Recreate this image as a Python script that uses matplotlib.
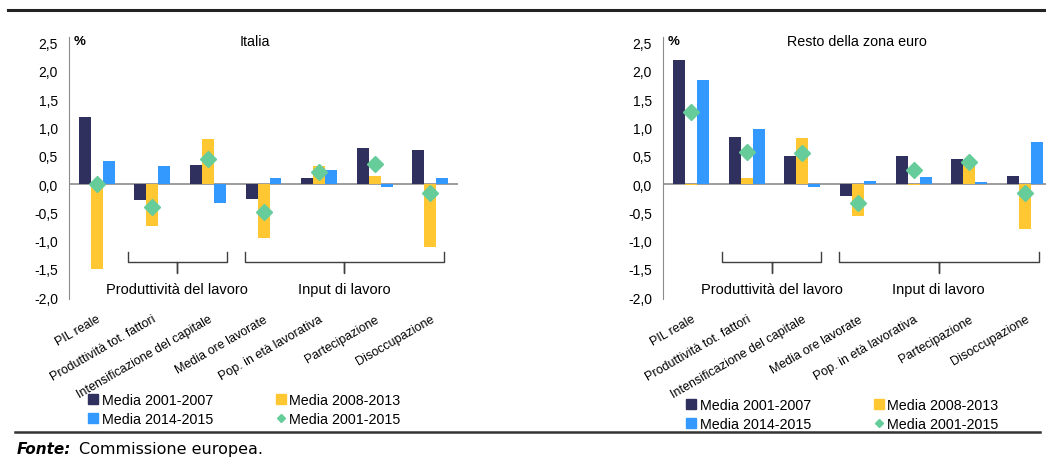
import matplotlib
matplotlib.use('Agg')
import matplotlib.pyplot as plt
from matplotlib.patches import Patch
from matplotlib.lines import Line2D

plt.rcParams['font.family'] = ['Liberation Sans', 'DejaVu Sans']

categories = ['PIL reale', 'Produttività tot. fattori', 'Intensificazione del capitale',
              'Media ore lavorate', 'Pop. in età lavorativa', 'Partecipazione', 'Disoccupazione']
series_names = ['Media 2001-2007', 'Media 2008-2013', 'Media 2014-2015', 'Media 2001-2015']
yticks = [2.5, 2.0, 1.5, 1.0, 0.5, 0.0, -0.5, -1.0, -1.5, -2.0]
group_labels = ['Produttività del lavoro', 'Input di lavoro']

# Italia
ita_0107 = [1.18, -0.28, 0.34, -0.26, 0.11, 0.63, 0.60]
ita_0813 = [-1.50, -0.74, 0.79, -0.95, 0.31, 0.14, -1.12]
ita_1415 = [0.41, 0.31, -0.34, 0.10, 0.24, -0.05, 0.11]
ita_0115 = [0.00, -0.40, 0.44, -0.50, 0.21, 0.35, -0.16]

# Resto della zona euro
rze_0107 = [2.20, 0.83, 0.50, -0.22, 0.50, 0.44, 0.15]
rze_0813 = [-0.02, 0.11, 0.81, -0.57, -0.01, 0.42, -0.79]
rze_1415 = [1.84, 0.98, -0.05, 0.05, 0.13, 0.04, 0.74]
rze_0115 = [1.27, 0.57, 0.54, -0.33, 0.25, 0.39, -0.16]

c_dark = '#30305e'
c_yellow = '#ffc832'
c_blue = '#3399ff'
c_green = '#66cc99'

fig = plt.figure(figsize=(10.46, 4.6), dpi=100)


def panel(ax, title, title_x, d1, d2, d3, d4):
    x = list(range(len(categories)))
    w = 0.215
    ax.bar([i - w for i in x], d1, width=w, color=c_dark)
    ax.bar(x, d2, width=w, color=c_yellow)
    ax.bar([i + w for i in x], d3, width=w, color=c_blue)
    ax.plot(x, d4, linestyle='none', marker='D', markersize=8, color=c_green)
    ax.axhline(0, color='#8c8c8c', lw=1.2, zorder=0)
    ax.set_xlim(-0.5, 6.5)
    ax.set_ylim(-2.03, 2.6)
    ax.set_yticks(yticks)
    ax.set_yticklabels([('%.1f' % v).replace('.', ',') for v in yticks], fontsize=10)
    ax.tick_params(axis='y', length=0, pad=8)
    ax.set_xticks(x)
    ax.set_xticklabels(categories, rotation=30, ha='right', va='top',
                       rotation_mode='anchor', fontsize=9)
    ax.tick_params(axis='x', length=0, pad=10)
    for s in ['top', 'right', 'bottom']:
        ax.spines[s].set_visible(False)
    ax.spines['left'].set_color('#8c8c8c')
    ax.patch.set_alpha(0)
    ax.text(title_x, 0.985, title, transform=ax.transAxes, ha='center', va='center', fontsize=10.3)
    ax.text(0.012, 0.985, '%', transform=ax.transAxes, ha='left', va='center', fontsize=9.5,
            weight='bold')
    # brackets
    for x0, xc, x1 in [(0.56, 1.45, 2.34), (2.66, 4.45, 6.24)]:
        ax.plot([x0, x0, xc, xc, xc, x1, x1], [-1.2, -1.38, -1.38, -1.58, -1.38, -1.38, -1.2],
                color='#404040', lw=1, clip_on=False)
    ax.text(1.45, -1.86, group_labels[0], ha='center', va='center', fontsize=10.5)
    ax.text(4.45, -1.86, group_labels[1], ha='center', va='center', fontsize=10.5)


ax1 = fig.add_axes([0.066, 0.348, 0.3719, 0.5696])
panel(ax1, 'Italia', 0.478, ita_0107, ita_0813, ita_1415, ita_0115)
ax2 = fig.add_axes([0.6339, 0.348, 0.3728, 0.5696])
panel(ax2, 'Resto della zona euro', 0.497, rze_0107, rze_0813, rze_1415, rze_0115)

handles = [Patch(color=c_dark), Patch(color=c_blue), Patch(color=c_yellow),
           Line2D([], [], linestyle='none', marker='D', markersize=4, color=c_green)]
labels = [series_names[0], series_names[2], series_names[1], series_names[3]]
for lx, ly in [(88 / 1046, 1 - 394 / 460), (686 / 1046, 1 - 399 / 460)]:
    fig.legend(handles, labels, loc='upper left', bbox_to_anchor=(lx, ly), ncol=2,
               frameon=False, fontsize=10.3, handlelength=0.7, handleheight=0.7,
               handletextpad=0.25, columnspacing=4.4, borderpad=0, borderaxespad=0,
               labelspacing=0.35)

# rules top and bottom
fig.add_artist(Line2D([8 / 1046, 1.0], [1 - 11 / 460] * 2, color='#222222', lw=2.2))
fig.add_artist(Line2D([15 / 1046, 1040 / 1046], [1 - 433 / 460] * 2, color='#333333', lw=1.8))

fig.text(17 / 1046, 1 - 450 / 460, 'Fonte:', family='DejaVu Sans', style='italic',
         weight='bold', fontsize=11, va='center', ha='left')
fig.text(79 / 1046, 1 - 450 / 460, 'Commissione europea.', family='DejaVu Sans',
         fontsize=11.5, va='center', ha='left')

fig.savefig('out.png', dpi=100)
